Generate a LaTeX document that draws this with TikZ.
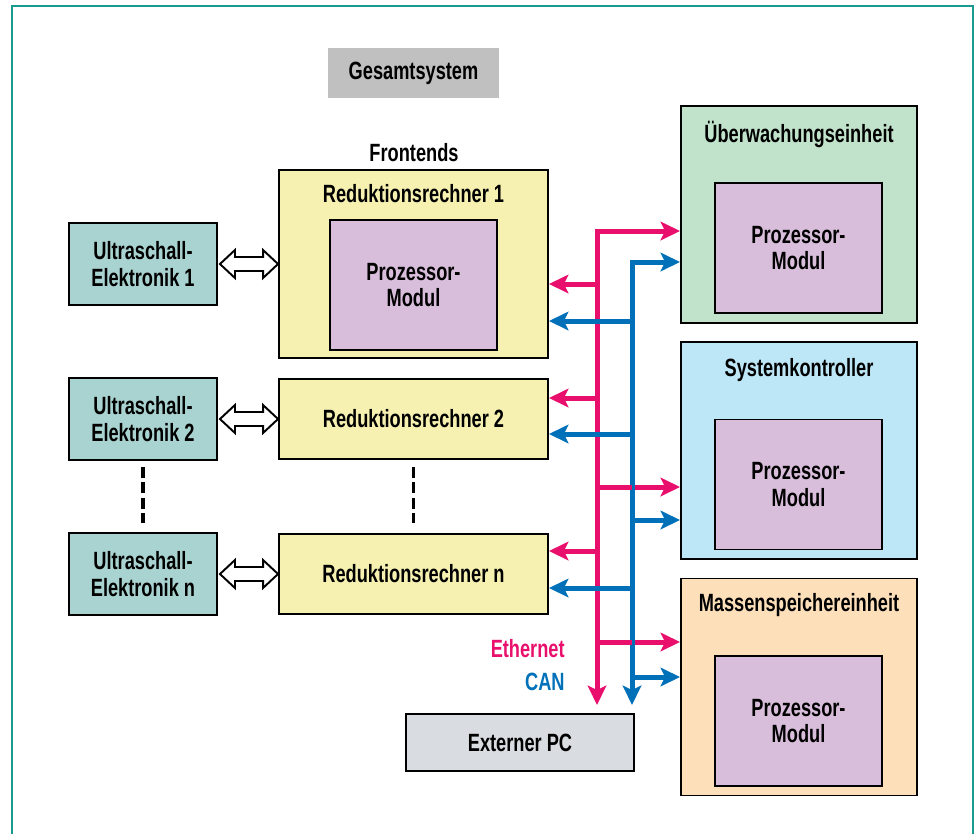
\documentclass[tikz,border=0pt]{standalone}
\usepackage{fontspec}
\setmainfont{Liberation Sans}[FakeStretch=0.73]
\usetikzlibrary{arrows.meta, calc}

\definecolor{frameteal}{RGB}{26,154,142}
\definecolor{titlegray}{RGB}{192,192,192}
\definecolor{pcgray}{RGB}{217,220,224}
\definecolor{ueteal}{RGB}{168,211,208}
\definecolor{rryellow}{RGB}{246,241,176}
\definecolor{pmpurple}{RGB}{217,190,220}
\definecolor{uebgreen}{RGB}{193,227,203}
\definecolor{syslblue}{RGB}{189,230,247}
\definecolor{maspeach}{RGB}{253,223,186}
\definecolor{ethmag}{RGB}{232,16,108}
\definecolor{canblue}{RGB}{0,112,184}

\newcommand{\lbl}{\bfseries\fontsize{14.2}{15.2}\selectfont}
\def\pxl{0.02cm}

% hollow double arrow between two nodes
\newcommand{\dblarrow}[2]{%
  \draw[hollow] ($(#1.east)+(2,0)$) -- ++(15,-14) -- ++(0,7) -- ($(#2.west)+(-15,-7)$) -- ++(0,-7)
    -- (#2.west) -- ++(-15,14) -- ++(0,-7) -- ($(#1.east)+(17,7)$) -- ++(0,7) -- cycle;}

\begin{document}
\begin{tikzpicture}[x=0.02cm, y=-0.02cm,
    every node/.style={font=\lbl, inner sep=0pt, align=center},
    box/.style={draw=black, line width=1.1pt},
    uebox/.style={box, fill=ueteal, minimum width={148*\pxl}, minimum height={82*\pxl}},
    rrbox/.style={box, fill=rryellow, minimum width={269*\pxl}, minimum height={80*\pxl}},
    pmbox/.style={box, fill=pmpurple, minimum width={167*\pxl}, minimum height={130*\pxl}},
    unitbox/.style={box, minimum width={236*\pxl}, minimum height={217*\pxl}},
    hollow/.style={draw=black, fill=white, line width=1.1pt, line join=miter},
    gapline/.style={line width=2.1pt, dash pattern=on 0.22cm off 0.09cm},
    tip/.style={-{Stealth[length=11pt, width=10.5pt, inset=2.5pt]}},
    tips/.style={{Stealth[length=11pt, width=10.5pt, inset=2.5pt]}-{Stealth[length=11pt, width=10.5pt, inset=2.5pt]}},
    ethline/.style={ethmag, line width=2.85pt},
    canline/.style={canblue, line width=2.85pt}]

    % Bus positions
    \def\xeth{597}   % x Ethernet
    \def\xcan{632}   % x CAN

    \useasboundingbox (0,0) rectangle (978,833);
    \clip (0,0) rectangle (978,833);

    % Frame
    \draw[frameteal, line width=1.4pt] (12,850) -- (12,6) -- (973,6) -- (973,850);

    % Title
    \node[fill=titlegray, minimum width={171*\pxl}, minimum height={50*\pxl}] (gesamt) at (413.5,73) {Gesamtsystem};
    \node[anchor=base] (frontends) at (414,161) {Frontends};

    % Ultraschall-Elektronik
    \node[uebox] (ue1) at (143,264) {Ultraschall-\\Elektronik 1};
    \node[uebox] (ue2) at (143,419) {Ultraschall-\\Elektronik 2};
    \node[uebox] (uen) at (143,574) {Ultraschall-\\Elektronik n};

    % Reduktionsrechner
    \node[rrbox, minimum height={188*\pxl}] (rr1) at (413.5,264) {};
    \node[anchor=base] (rr1t) at ($(rr1.north)+(0,33)$) {Reduktionsrechner 1};
    \node[pmbox] (pm1) at (413.5,285) {Prozessor-\\Modul};
    \node[rrbox] (rr2) at (413.5,419) {Reduktionsrechner 2};
    \node[rrbox] (rrn) at (413.5,574) {Reduktionsrechner n};

    % Dashes
    \draw[gapline, shorten <=0.12cm, shorten >=0.18cm] (ue2) -- (uen);
    \draw[gapline, shorten <=0.14cm, shorten >=0.2cm] (rr2) -- (rrn);

    % Hollow arrows
    \dblarrow{ue1}{rr1}
    \dblarrow{ue2}{rr2}
    \dblarrow{uen}{rrn}

    % Units
    \node[unitbox, fill=uebgreen] (ueb) at (799,214.5) {};
    \node[anchor=base] (uebt) at ($(ueb.north)+(0,37)$) {Überwachungseinheit};
    \node[pmbox] (pmueb) at (798.5,248) {Prozessor-\\Modul};
    \node[unitbox, fill=syslblue] (sys) at (799,450.5) {};
    \node[anchor=base] (syst) at ($(sys.north)+(0,35)$) {Systemkontroller};
    \node[pmbox] (pmsys) at (798.5,484.5) {Prozessor-\\Modul};
    \node[unitbox, fill=maspeach] (mas) at (799,687) {};
    \node[anchor=base] (mast) at ($(mas.north)+(0,34)$) {Massenspeichereinheit};
    \node[pmbox] (pmmas) at (798.5,721) {Prozessor-\\Modul};

    % Externer PC
    \node[box, fill=pcgray, minimum width={228*\pxl}, minimum height={57*\pxl}] (pc) at (520,742.5) {Externer PC};

    % Legend
    \node[anchor=base east, text=ethmag] (ethl) at (565,657) {Ethernet};
    \node[anchor=base east, text=canblue] (canl) at (565,690) {CAN};

    % Ethernet bus
    \coordinate (eth0) at (\xeth,231);
    \draw[ethline, tips, shorten <=0.16cm] (eth0 |- pc.north) -- (eth0) -- (eth0 -| ueb.west);
    \foreach \y/\n [count=\i] in {487/sys, 642/mas}{
        \coordinate (ethout\i) at (\xeth,\y);
        \draw[ethline, tip] (ethout\i) -- (ethout\i -| \n.west);
    }
    % CAN bus
    \coordinate (can0) at (\xcan,262);
    \draw[canline, tips, shorten <=0.16cm] (can0 |- pc.north) -- (can0) -- (can0 -| ueb.west);
    \foreach \y/\n [count=\i] in {520/sys, 677/mas}{
        \coordinate (canout\i) at (\xcan,\y);
        \draw[canline, tip] (canout\i) -- (canout\i -| \n.west);
    }
    % Taps to the frontends
    \foreach \y/\n [count=\i] in {284/rr1, 398/rr2, 551/rrn}{
        \coordinate (ethin\i) at (\xeth,\y);
        \draw[ethline, tip] (ethin\i) -- (ethin\i -| \n.east);
    }
    \foreach \y/\n [count=\i] in {321/rr1, 434/rr2, 588/rrn}{
        \coordinate (canin\i) at (\xcan,\y);
        \draw[canline, tip] (canin\i) -- (canin\i -| \n.east);
    }
    % Ethernet right taps over CAN trunk
    \draw[ethline] (ethout1) -- (ethout1 -| can0);
    \draw[ethline] (ethout2) -- (ethout2 -| can0);

\end{tikzpicture}
\end{document}
